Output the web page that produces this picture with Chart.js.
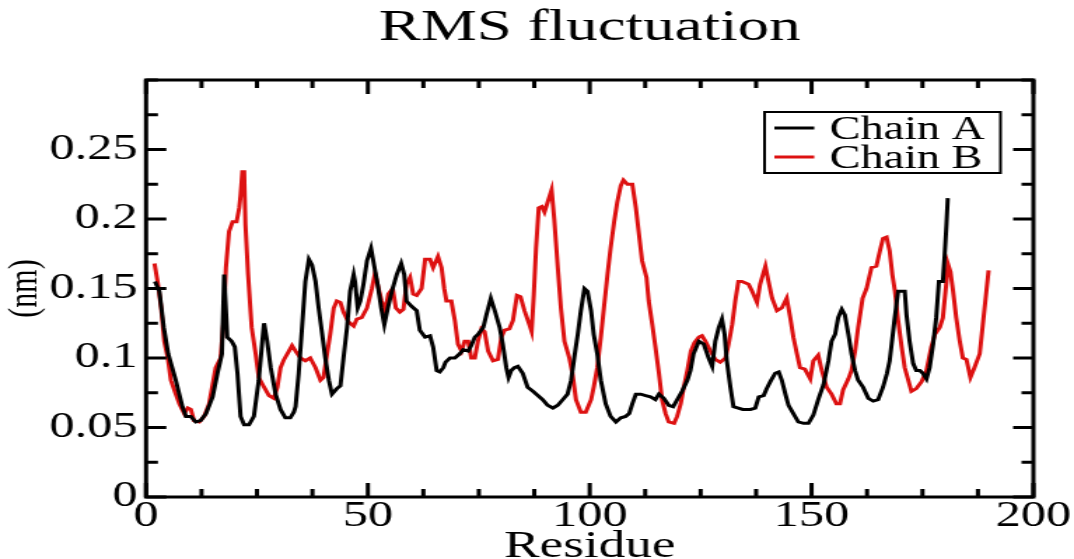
<!DOCTYPE html>
<html>
<head>
<meta charset="utf-8">
<script src="https://cdn.jsdelivr.net/npm/chart.js@4"></script>
<style>
  html, body { margin: 0; padding: 0; background: #fff; overflow: hidden; }
  /* the reference is stretched sideways, so draw narrow and widen it */
  #wrap { width: 767px; height: 559px; transform: scaleX(1.40026); transform-origin: 0 0; }
</style>
</head>
<body>
<div id="wrap"><canvas id="graph" width="767" height="559"></canvas></div>
<script>
// DATA
const chainALabel = 'Chain A';
const chainBLabel = 'Chain B';

const residueA = [2,3,4,5,6.7,8.2,9,10.1,11.2,12.3,13.5,15,16.1,17.1,17.6,18.3,19.3,20,20.6,21.3,
  22.1,23.2,24.3,25.4,26.2,26.6,27.3,28.1,29.2,30.3,31.4,32.5,33.3,33.7,34.4,35.2,35.9,36.7,37.4,38.2,
  38.9,39.7,40.4,41.2,41.9,43,43.8,44.5,45.3,46,46.8,47.1,47.7,48.3,49,49.8,50.7,51.5,52.2,53,
  53.7,54.5,55.4,56.5,57.5,58.2,58.7,59.9,61,61.7,62.9,64,64.7,65.5,66.2,67,67.5,68.5,69.6,70.7,
  71.5,72.6,73.3,74.1,74.8,76,76.7,77.7,78.6,79.7,80.4,81.2,81.7,82.3,83,83.8,84.9,86,87.2,88.3,
  89.4,90.5,91.7,92.8,93.9,95,95.8,96.5,97.3,98,98.8,99.5,100.3,100.9,101.7,102.5,103.6,104.7,105.9,107,
  108.1,108.9,109.6,110.4,111.5,112.6,113.7,114.8,115.6,116.7,117.8,118.8,119.7,120.8,122,122.7,123.4,124.6,125.7,126.8,
  127.6,128.3,129.1,129.8,130.4,130.9,131.7,132.4,133.5,134.5,136.2,137.3,138.1,139.2,139.9,140.7,141.8,142.6,143.3,144.1,
  144.8,145.9,147,148.2,149.3,150.4,151.5,152.7,153.8,154.5,155.3,156,156.8,157.5,158.3,159,159.8,160.5,161.6,162.8,
  163.9,165,166.1,167,167.6,168.6,169.5,171,171.4,172.1,172.9,173.6,174.4,175.1,175.9,176.6,177.4,178.1,178.7,179.6,
  180,180.4,180.7];
const rmsfA = [0.155,0.148,0.122,0.103,0.084,0.065,0.058,0.058,0.054,0.055,0.060,0.072,0.089,0.103,0.160,0.115,0.112,0.108,0.089,0.058,
  0.052,0.052,0.058,0.084,0.112,0.125,0.112,0.093,0.074,0.063,0.057,0.057,0.061,0.065,0.089,0.124,0.155,0.171,0.167,0.155,
  0.136,0.117,0.100,0.084,0.074,0.078,0.080,0.100,0.122,0.148,0.160,0.155,0.136,0.141,0.153,0.170,0.179,0.165,0.153,0.136,
  0.124,0.136,0.148,0.160,0.168,0.160,0.141,0.137,0.134,0.120,0.115,0.116,0.108,0.091,0.090,0.093,0.097,0.100,0.100,0.103,
  0.106,0.105,0.109,0.115,0.117,0.122,0.131,0.143,0.134,0.122,0.110,0.093,0.086,0.091,0.093,0.094,0.089,0.079,0.076,0.073,
  0.070,0.066,0.064,0.066,0.070,0.074,0.084,0.100,0.117,0.134,0.150,0.148,0.134,0.117,0.103,0.084,0.067,0.058,0.054,0.057,
  0.058,0.060,0.067,0.074,0.074,0.073,0.072,0.070,0.074,0.071,0.066,0.065,0.070,0.076,0.084,0.091,0.103,0.112,0.110,0.100,
  0.094,0.112,0.122,0.128,0.117,0.098,0.079,0.065,0.064,0.063,0.063,0.064,0.072,0.073,0.078,0.083,0.089,0.090,0.084,0.074,
  0.066,0.060,0.054,0.053,0.053,0.059,0.070,0.081,0.098,0.112,0.117,0.129,0.135,0.131,0.117,0.103,0.091,0.084,0.079,0.071,
  0.069,0.070,0.079,0.089,0.098,0.125,0.148,0.148,0.131,0.112,0.096,0.091,0.091,0.089,0.085,0.093,0.110,0.129,0.155,0.155,
  0.174,0.196,0.215];

const residueB = [1.9,2.6,3.4,4.1,4.9,5.6,6.7,7.5,8.6,9.4,10.1,10.8,12,13.1,14.2,15,15.7,16.8,17.4,18,
  18.7,19.5,20.4,21,21.3,21.7,22.1,22.4,23,23.8,24.7,25.4,26.6,27.7,28.8,29.6,30.3,31.1,32.2,32.9,
  33.7,34.8,35.9,37,38.2,39.3,40,40.8,41.5,42.3,43,43.8,44.5,45.6,46.8,47.5,48.6,49.8,50.9,51.6,
  52.4,53.1,53.9,54.6,55.6,56.3,57.2,58,58.7,59.5,60.2,61,62.1,62.9,64,64.7,65.8,66.6,67.2,67.7,
  68.8,69.6,70.3,71.1,71.8,72.6,73.3,74.1,74.8,75.6,76.3,77.1,78.2,79.3,80.1,80.8,81.9,82.7,83.6,84.4,
  85.3,86.4,86.9,87.4,87.9,88.5,89.2,89.8,90.5,91.4,92,92.8,93.5,94.3,95.4,96.1,96.9,98,99.1,100.3,
  100.9,101.7,102.5,103.2,104,104.7,105.5,106.2,107,107.6,108.5,109.6,110.4,111.1,111.8,112.8,113.3,114.1,114.8,115.6,
  116.3,117.1,117.8,119,119.7,120.5,121.2,122,122.8,123.6,124.6,125.3,126.1,127.2,128.3,129.4,130.6,131.3,132.1,132.8,
  133.5,134.3,135.8,136.6,137.7,138.4,139.6,140.3,141.1,142.2,143.3,144.4,145.2,145.9,146.7,147.4,148.5,149.7,150.4,151.5,
  152.3,153.4,154.5,155.6,156.4,157.1,158.3,159,159.8,160.5,161.5,162.4,163.5,164.6,165.4,166.1,166.9,167.6,168.2,168.8,
  169.5,170.3,171,171.8,172.5,173.6,174.8,175.9,177,177.8,178.9,179.6,180.4,180.7,181.3,181.9,182.6,183.4,184.1,184.9,
  185.8,186.7,187.9,188.6,189.4,189.9];
const rmsfB = [0.168,0.155,0.136,0.112,0.100,0.084,0.074,0.067,0.060,0.064,0.063,0.055,0.054,0.058,0.067,0.081,0.093,0.100,0.124,0.165,
  0.191,0.198,0.198,0.208,0.217,0.234,0.234,0.196,0.160,0.122,0.103,0.086,0.079,0.073,0.071,0.079,0.093,0.099,0.105,0.109,
  0.105,0.100,0.098,0.100,0.093,0.084,0.086,0.103,0.117,0.136,0.141,0.140,0.133,0.126,0.123,0.128,0.129,0.136,0.150,0.161,
  0.150,0.141,0.134,0.146,0.150,0.136,0.133,0.135,0.153,0.158,0.146,0.145,0.150,0.171,0.171,0.165,0.173,0.165,0.150,0.141,
  0.141,0.127,0.110,0.105,0.112,0.112,0.100,0.100,0.112,0.121,0.119,0.105,0.098,0.099,0.115,0.120,0.121,0.127,0.145,0.144,
  0.134,0.124,0.119,0.146,0.179,0.208,0.209,0.205,0.212,0.221,0.200,0.165,0.136,0.112,0.100,0.089,0.070,0.061,0.061,0.070,
  0.079,0.093,0.115,0.136,0.160,0.179,0.198,0.212,0.224,0.228,0.225,0.225,0.208,0.189,0.170,0.158,0.141,0.124,0.108,0.089,
  0.070,0.060,0.054,0.053,0.058,0.067,0.079,0.091,0.105,0.111,0.115,0.116,0.112,0.105,0.099,0.097,0.100,0.110,0.124,0.141,
  0.155,0.155,0.153,0.148,0.140,0.153,0.166,0.155,0.143,0.134,0.136,0.143,0.129,0.115,0.103,0.093,0.092,0.085,0.098,0.102,
  0.091,0.079,0.074,0.067,0.067,0.077,0.085,0.091,0.105,0.122,0.143,0.150,0.165,0.166,0.177,0.186,0.187,0.177,0.160,0.148,
  0.127,0.108,0.093,0.084,0.076,0.078,0.083,0.091,0.108,0.117,0.122,0.129,0.155,0.168,0.162,0.148,0.129,0.112,0.100,0.099,
  0.086,0.093,0.103,0.124,0.148,0.163];

// axis ticks: labelled majors, unlabelled minors in between
const xMajorTicks = [0, 50, 100, 150, 200];
const xMinorStep = 12.5;
const yMajorTicks = [0, 0.05, 0.1, 0.15, 0.2, 0.25];
const yMinorStep = 0.025;

const serif = "'Liberation Serif', 'Times New Roman', serif";

const near = (v, list) => list.some(t => Math.abs(t - v) < 1e-6);

// Frame, inward ticks on all four sides, legend box inside the plot
const framePlugin = {
  id: 'frame',
  afterDatasetsDraw(chart) {
    const { ctx, chartArea: a, scales: { x, y } } = chart;
    ctx.save();
    ctx.strokeStyle = '#000';
    ctx.lineWidth = 3;
    ctx.beginPath();
    for (let v = x.min; v <= x.max + 1e-6; v += xMinorStep) {
      const px = x.getPixelForValue(v);
      const len = near(v, xMajorTicks) ? 14 : 8;
      ctx.moveTo(px, a.bottom); ctx.lineTo(px, a.bottom - len);
      ctx.moveTo(px, a.top); ctx.lineTo(px, a.top + len);
    }
    for (let v = y.min; v <= y.max + 1e-6; v += yMinorStep) {
      const py = y.getPixelForValue(v);
      const len = near(v, yMajorTicks) ? 14.5 : 8.5;
      ctx.moveTo(a.left, py); ctx.lineTo(a.left + len, py);
      ctx.moveTo(a.right, py); ctx.lineTo(a.right - len, py);
    }
    ctx.stroke();
    ctx.strokeRect(a.left, a.top, a.right - a.left, a.bottom - a.top);

    // legend
    const bx = a.right - 192, by = a.top + 32;
    ctx.lineWidth = 2;
    ctx.fillStyle = '#fff';
    ctx.fillRect(bx, by, 168.5, 61);
    ctx.strokeRect(bx, by, 168.5, 61);
    ctx.font = '33px ' + serif;
    ctx.textBaseline = 'alphabetic';
    chart.data.datasets.forEach((ds, i) => {
      const cy = by + 16 + i * 29;
      ctx.strokeStyle = ds.borderColor;
      ctx.lineWidth = 3;
      ctx.beginPath();
      ctx.moveTo(bx + 7, cy);
      ctx.lineTo(bx + 35.5, cy);
      ctx.stroke();
      ctx.fillStyle = '#000';
      ctx.fillText(ds.label, bx + 46.5, cy + 11);
    });
    ctx.restore();
  }
};

const graph = document.getElementById('graph');

let myChart = new Chart(graph, {
  type: 'line',
  data: {
    datasets: [{
      label: chainALabel,
      data: residueA.map((r, i) => ({ x: r, y: rmsfA[i] })),
      borderColor: '#000000',
      borderWidth: 3,
      pointRadius: 0,
      tension: 0
    }, {
      label: chainBLabel,
      data: residueB.map((r, i) => ({ x: r, y: rmsfB[i] })),
      borderColor: '#dd1111',
      borderWidth: 3,
      pointRadius: 0,
      tension: 0
    }]
  },
  options: {
    responsive: false,
    animation: false,
    events: [],
    layout: { padding: { left: 0, right: 27, top: 0, bottom: 0 } },
    plugins: {
      legend: { display: false },
      tooltip: { enabled: false },
      title: {
        display: true,
        fullSize: false,
        text: 'RMS fluctuation',
        color: '#000',
        font: { family: serif, size: 45, weight: 'normal', lineHeight: 1 },
        padding: { top: 6, bottom: 29 }
      }
    },
    scales: {
      x: {
        type: 'linear',
        min: 0,
        max: 200,
        grid: { display: false, drawTicks: false },
        border: { display: false },
        afterFit: s => { s.height = 62; },
        ticks: {
          stepSize: xMinorStep,
          autoSkip: false,
          maxRotation: 0,
          padding: 2,
          color: '#000',
          font: { family: serif, size: 36, lineHeight: 1 },
          callback: v => near(v, xMajorTicks) ? String(v) : ''
        },
        title: {
          display: true,
          text: 'Residue',
          color: '#000',
          font: { family: serif, size: 38, lineHeight: 0.64 },
          padding: 0
        }
      },
      y: {
        min: 0,
        max: 0.3,
        grid: { display: false, drawTicks: false },
        border: { display: false },
        afterFit: s => { s.width = 104.3; },
        ticks: {
          stepSize: yMinorStep,
          autoSkip: false,
          padding: 6,
          color: '#000',
          font: { family: serif, size: 36, lineHeight: 1 },
          callback: v => near(v, yMajorTicks) ? String(Math.round(v * 100) / 100) : ''
        },
        title: {
          display: true,
          text: '(nm)',
          color: '#000',
          font: { family: serif, size: 30, lineHeight: 1.2 },
          padding: 0
        }
      }
    }
  },
  plugins: [framePlugin]
});
</script>
</body>
</html>
